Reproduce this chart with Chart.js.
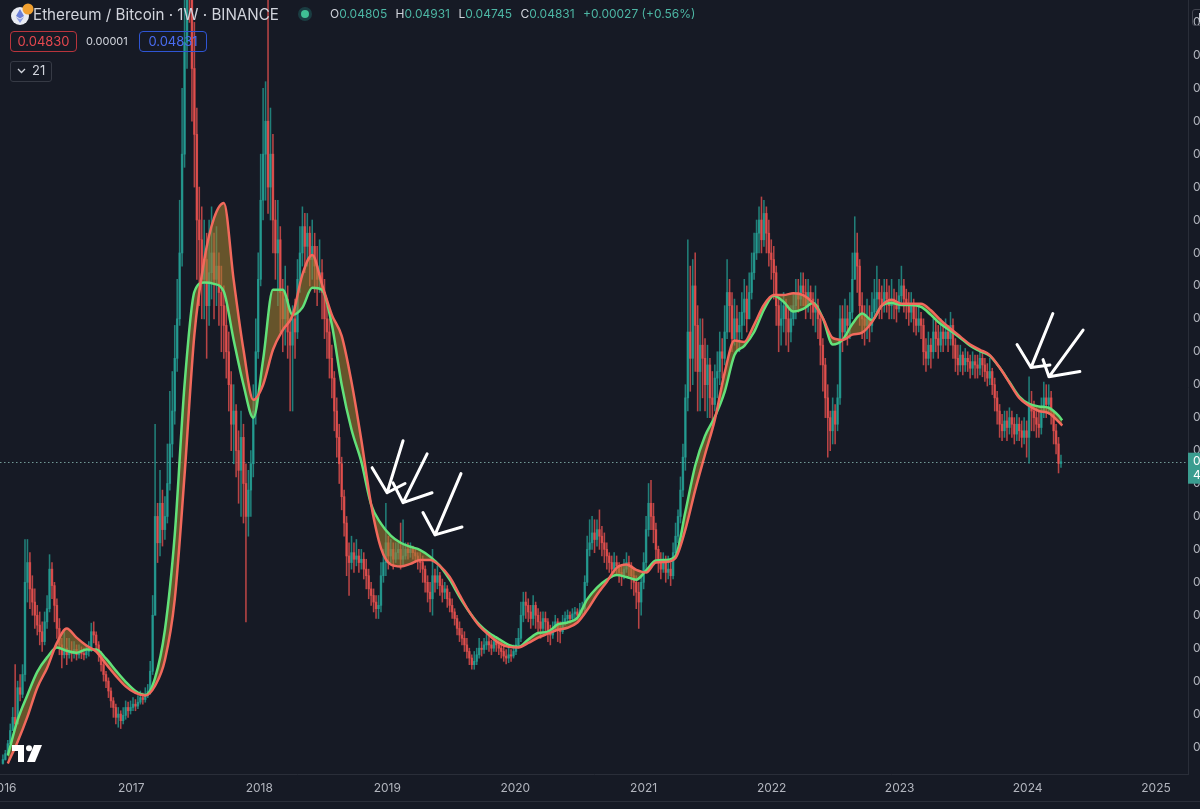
<!DOCTYPE html>
<html>
<head>
<meta charset="utf-8">
<script src="https://cdn.jsdelivr.net/npm/chart.js@4.4.1/dist/chart.umd.min.js"></script>
<style>
  html, body { margin: 0; padding: 0; background: #161a25; overflow: hidden; width: 1200px; height: 809px; }
  #wrap { position: absolute; left: 0; top: 0; width: 1262px; height: 802px; }
  #bottomLine { position: absolute; left: 0; top: 801px; width: 1200px; height: 1px; background: #2a2e39; }
  .lg { position: absolute; font-family: Inter, "Noto Sans", sans-serif; white-space: nowrap; color: #d1d4dc; z-index: 2; }
  #title { left: 33px; top: 5px; font-size: 15.2px; line-height: 19px; }
  #ohlc { left: 330px; top: 7px; font-size: 12px; line-height: 14px; color: #d1d4dc; }
  #ohlc b { font-weight: 400; color: #4db6a4; margin-right: 5px; }
  #dot { left: 298px; top: 7px; width: 14px; height: 14px; border-radius: 50%; background: rgba(38,166,154,0.25); }
  #dot i { position: absolute; left: 3px; top: 3px; width: 8px; height: 8px; border-radius: 50%; background: #3fbf94; }
  .box { position: absolute; box-sizing: border-box; border-radius: 4px; font-size: 13px; text-align: center; }
  #maA { left: 10px; top: 31px; width: 67px; height: 21px; line-height: 19px; border: 1px solid #b8343c; color: #e5484f; }
  #diff { left: 86px; top: 35px; font-size: 11px; line-height: 13px; color: #d1d4dc; }
  #maB { left: 139px; top: 31px; width: 68px; height: 21px; line-height: 19px; border: 1px solid #2f55d4; color: #4a6df2; }
  #len { left: 10px; top: 61px; width: 40px; height: 19px; line-height: 17px; border: 1px solid #363a45; border-radius: 3px; font-size: 13px; text-align: left; }
  #len span { position: absolute; left: 21px; top: 0; }
  #len svg { position: absolute; left: 6px; top: 6px; }
  #icon { left: 9px; top: 3px; }
  #tv { left: 12px; top: 745px; }
  #ebox { left: 1192px; top: 9px; width: 40px; height: 17px; box-sizing: border-box; border: 1px solid #434651; border-radius: 3px; font-size: 12px; line-height: 15px; padding-left: 5px; }
</style>
</head>
<body>
<div id="wrap"><canvas id="chart"></canvas></div>
<div id="bottomLine"></div>

<svg class="lg" id="icon" width="26" height="24" viewBox="0 0 26 24">
  <circle cx="11" cy="13" r="9" fill="#e8ebf2"/>
  <path d="M11 6 L15 13 L11 15.5 L7 13 Z" fill="#6a7fd8"/>
  <path d="M7 14 L11 16.5 L15 14 L11 20 Z" fill="#8b9ce4"/>
  <circle cx="19" cy="6" r="5.5" fill="#f0a030"/>
</svg>
<div class="lg" id="title">Ethereum / Bitcoin · 1W · BINANCE</div>
<div class="lg" id="dot"><i></i></div>
<div class="lg" id="ohlc">O<b>0.04805</b> H<b>0.04931</b> L<b>0.04745</b> C<b>0.04831</b> <b>+0.00027 (+0.56%)</b></div>
<div class="lg box" id="maA">0.04830</div>
<div class="lg" id="diff">0.00001</div>
<div class="lg box" id="maB">0.04831</div>
<div class="lg" id="len">
  <svg width="9" height="6" viewBox="0 0 9 6"><path d="M1 1 L4.5 4.5 L8 1" stroke="#d1d4dc" stroke-width="1.3" fill="none"/></svg>
  <span>21</span>
</div>
<div class="lg" id="ebox">E</div>
<svg class="lg" id="tv" width="32" height="18" viewBox="0 0 32 18">
  <path d="M0 0 H12 V17 H6 V6 H0 Z" fill="#ffffff"/>
  <circle cx="17" cy="3.2" r="3" fill="#ffffff"/>
  <path d="M22 0 H30 L23 17 H15 Z" fill="#ffffff"/>
</svg>

<script>
// ETH/BTC weekly candles, one per week starting Jan 2016 (index = weeks since 2016-01-01)
const firstOpen = 0.0025;

const closes = [
  // 2016
  .0031,.0040,.0055,.0075,.0095,.0085,.0140,.0130,.0160,.0300,.0330,.0290,.0270,
  .0250,.0235,.0225,.0210,.0240,.0260,.0320,.0295,.0265,.0230,.0205,.0190,.0200,
  .0190,.0195,.0192,.0198,.0190,.0195,.0192,.0190,.0195,.0200,.0225,.0220,.0205,
  .0190,.0175,.0160,.0150,.0135,.0120,.0110,.0095,.0100,.0090,.0098,.0110,.0105,
  // 2017
  .0110,.0115,.0112,.0118,.0125,.0122,.0128,.0135,.0165,.0250,.0400,.0360,.0420,
  .0380,.0400,.0450,.0510,.0560,.0640,.0700,.0800,.0950,.1120,.1300,.1250,.1080,
  .0980,.0850,.0820,.0760,.0790,.0720,.0770,.0800,.0760,.0780,.0740,.0720,.0690,
  .0650,.0600,.0540,.0560,.0500,.0470,.0520,.0450,.0400,.0440,.0480,.0560,.0650,
  // 2018
  .0760,.0880,.0950,.1000,.0900,.0950,.0850,.0800,.0820,.0740,.0700,.0730,.0680,
  .0660,.0700,.0680,.0760,.0800,.0840,.0810,.0830,.0790,.0810,.0780,.0760,.0770,
  .0740,.0700,.0680,.0640,.0610,.0560,.0520,.0480,.0430,.0390,.0340,.0330,.0345,
  .0335,.0340,.0330,.0335,.0320,.0310,.0290,.0280,.0270,.0260,.0265,.0310,.0330,
  // 2019
  .0360,.0340,.0350,.0335,.0345,.0350,.0335,.0340,.0350,.0345,.0350,.0345,.0340,
  .0335,.0330,.0320,.0300,.0285,.0275,.0310,.0300,.0310,.0295,.0285,.0290,.0275,
  .0265,.0255,.0245,.0230,.0220,.0215,.0205,.0195,.0185,.0175,.0180,.0190,.0200,
  .0198,.0205,.0210,.0205,.0200,.0210,.0205,.0200,.0195,.0188,.0185,.0190,.0188,
  // 2020
  .0195,.0205,.0215,.0250,.0270,.0265,.0255,.0245,.0265,.0250,.0240,.0230,.0245,
  .0240,.0225,.0220,.0230,.0240,.0230,.0225,.0240,.0245,.0250,.0245,.0252,.0255,
  .0250,.0258,.0260,.0300,.0350,.0360,.0375,.0365,.0380,.0370,.0360,.0350,.0340,
  .0330,.0320,.0330,.0325,.0315,.0310,.0320,.0330,.0325,.0310,.0300,.0285,.0270,
  // 2021
  .0300,.0330,.0380,.0420,.0400,.0380,.0350,.0330,.0320,.0330,.0315,.0320,.0310,
  .0345,.0370,.0400,.0440,.0490,.0580,.0680,.0640,.0750,.0690,.0620,.0660,.0640,
  .0600,.0630,.0580,.0570,.0610,.0620,.0650,.0640,.0680,.0740,.0720,.0670,.0700,
  .0680,.0690,.0710,.0730,.0700,.0740,.0770,.0800,.0830,.0850,.0820,.0860,.0830,
  // 2022
  .0800,.0790,.0770,.0720,.0690,.0700,.0720,.0700,.0680,.0700,.0720,.0740,.0730,
  .0750,.0740,.0720,.0740,.0730,.0710,.0720,.0700,.0660,.0630,.0580,.0550,.0530,
  .0560,.0540,.0580,.0700,.0680,.0700,.0690,.0710,.0760,.0800,.0780,.0720,.0700,
  .0690,.0700,.0690,.0710,.0730,.0740,.0730,.0720,.0740,.0730,.0720,.0730,.0725,
  // 2023
  .0715,.0735,.0750,.0730,.0720,.0710,.0720,.0700,.0690,.0700,.0690,.0650,.0640,
  .0660,.0650,.0680,.0670,.0660,.0680,.0670,.0680,.0670,.0690,.0660,.0640,.0630,
  .0645,.0630,.0640,.0635,.0625,.0635,.0630,.0625,.0640,.0630,.0620,.0610,.0620,
  .0600,.0580,.0560,.0540,.0530,.0545,.0535,.0550,.0540,.0525,.0540,.0530,.0520,
  // 2024
  .0530,.0520,.0570,.0560,.0550,.0540,.0535,.0560,.0580,.0570,.0580,.0560,.0530,.0510,.04805,.04831
];

const highs = [
  .0038,.0045,.0060,.0085,.0110,.0175,.0150,.0160,.0175,.0365,.0365,.0345,.0310,
  .0290,.0265,.0255,.0240,.0255,.0280,.0342,.0330,.0300,.0275,.0245,.0215,.0225,
  .0215,.0215,.0210,.0210,.0205,.0205,.0202,.0200,.0205,.0210,.0238,.0240,.0225,
  .0210,.0195,.0180,.0165,.0155,.0140,.0125,.0115,.0110,.0105,.0110,.0120,.0118,
  .0120,.0125,.0122,.0128,.0135,.0132,.0140,.0145,.0180,.0280,.0540,.0420,.0470,
  .0440,.0430,.0510,.0590,.0620,.0690,.0760,.0880,.1050,.1250,.1450,.1560,.1350,
  .1150,.1020,.0900,.0870,.0850,.0830,.0850,.0870,.0830,.0840,.0800,.0780,.0750,
  .0720,.0680,.0620,.0600,.0570,.0530,.0560,.0540,.0480,.0470,.0500,.0600,.0700,
  .0800,.0950,.1050,.1060,.1220,.1020,.0980,.0880,.0880,.0840,.0760,.0780,.0750,
  .0700,.0720,.0730,.0790,.0840,.0870,.0860,.0860,.0840,.0850,.0830,.0810,.0820,
  .0790,.0760,.0720,.0700,.0660,.0620,.0580,.0540,.0490,.0440,.0400,.0360,.0370,
  .0360,.0365,.0350,.0350,.0345,.0335,.0320,.0300,.0290,.0280,.0280,.0330,.0350,
  .0420,.0370,.0365,.0360,.0360,.0360,.0390,.0395,.0360,.0360,.0360,.0355,.0350,
  .0345,.0345,.0340,.0325,.0310,.0300,.0350,.0320,.0325,.0315,.0305,.0300,.0295,
  .0285,.0275,.0260,.0250,.0240,.0230,.0225,.0215,.0200,.0190,.0195,.0200,.0215,
  .0210,.0215,.0222,.0220,.0212,.0220,.0218,.0212,.0210,.0205,.0198,.0200,.0198,
  .0205,.0215,.0230,.0270,.0285,.0285,.0275,.0265,.0280,.0270,.0260,.0255,.0255,
  .0255,.0245,.0235,.0240,.0250,.0245,.0240,.0250,.0255,.0258,.0255,.0260,.0262,
  .0260,.0268,.0270,.0310,.0370,.0395,.0400,.0395,.0395,.0410,.0385,.0375,.0360,
  .0345,.0340,.0345,.0340,.0330,.0325,.0335,.0345,.0340,.0330,.0320,.0310,.0300,
  .0310,.0345,.0400,.0450,.0455,.0420,.0390,.0355,.0345,.0345,.0340,.0340,.0330,
  .0360,.0390,.0410,.0460,.0510,.0600,.0820,.0780,.0790,.0800,.0720,.0700,.0700,
  .0670,.0660,.0640,.0620,.0630,.0650,.0680,.0670,.0720,.0790,.0760,.0740,.0730,
  .0720,.0710,.0740,.0760,.0750,.0770,.0800,.0830,.0850,.0870,.0885,.0880,.0870,
  .0850,.0820,.0810,.0780,.0730,.0730,.0740,.0730,.0720,.0720,.0740,.0760,.0760,
  .0770,.0770,.0760,.0760,.0750,.0740,.0750,.0730,.0710,.0670,.0640,.0600,.0560,
  .0580,.0570,.0600,.0720,.0720,.0730,.0720,.0740,.0800,.0855,.0830,.0790,.0740,
  .0720,.0730,.0720,.0740,.0760,.0780,.0760,.0750,.0760,.0760,.0750,.0760,.0745,
  .0740,.0760,.0780,.0760,.0745,.0740,.0740,.0730,.0720,.0720,.0710,.0700,.0670,
  .0680,.0670,.0700,.0700,.0690,.0700,.0695,.0700,.0690,.0710,.0700,.0670,.0660,
  .0660,.0650,.0655,.0650,.0645,.0650,.0645,.0645,.0650,.0648,.0640,.0632,.0640,
  .0625,.0610,.0590,.0570,.0555,.0560,.0560,.0565,.0560,.0550,.0555,.0550,.0545,
  .0550,.0545,.0612,.0590,.0575,.0565,.0560,.0580,.0604,.0600,.0600,.0590,.0560,.0540,.0520,.04931
];

const lows = [
  .0024,.0030,.0040,.0055,.0075,.0080,.0085,.0120,.0125,.0150,.0270,.0260,.0250,
  .0230,.0220,.0205,.0195,.0205,.0230,.0255,.0275,.0240,.0215,.0190,.0170,.0185,
  .0175,.0185,.0180,.0185,.0182,.0185,.0184,.0182,.0185,.0188,.0195,.0208,.0195,
  .0180,.0165,.0150,.0140,.0125,.0110,.0095,.0085,.0080,.0078,.0085,.0092,.0095,
  .0100,.0105,.0105,.0108,.0115,.0115,.0118,.0125,.0130,.0160,.0300,.0330,.0340,
  .0355,.0365,.0390,.0440,.0490,.0540,.0620,.0690,.0780,.0930,.1080,.1150,.1000,
  .0900,.0760,.0720,.0700,.0700,.0640,.0690,.0730,.0700,.0720,.0690,.0650,.0640,
  .0610,.0560,.0500,.0480,.0460,.0420,.0400,.0390,.0240,.0370,.0400,.0460,.0540,
  .0640,.0750,.0850,.0880,.0860,.0850,.0800,.0760,.0720,.0680,.0650,.0660,.0640,
  .0560,.0560,.0640,.0670,.0740,.0780,.0770,.0780,.0750,.0760,.0740,.0720,.0740,
  .0700,.0670,.0640,.0610,.0580,.0530,.0490,.0450,.0410,.0370,.0310,.0280,.0320,
  .0315,.0325,.0315,.0320,.0305,.0290,.0275,.0265,.0255,.0245,.0245,.0255,.0300,
  .0310,.0320,.0330,.0320,.0330,.0335,.0320,.0325,.0335,.0335,.0338,.0335,.0330,
  .0320,.0315,.0300,.0285,.0270,.0255,.0250,.0285,.0290,.0280,.0270,.0275,.0262,
  .0255,.0245,.0235,.0220,.0210,.0205,.0195,.0185,.0175,.0168,.0168,.0175,.0185,
  .0188,.0192,.0198,.0195,.0190,.0195,.0195,.0190,.0185,.0180,.0176,.0178,.0180,
  .0185,.0190,.0200,.0210,.0240,.0245,.0240,.0230,.0235,.0230,.0225,.0215,.0225,
  .0225,.0210,.0205,.0215,.0225,.0210,.0208,.0222,.0235,.0240,.0238,.0242,.0245,
  .0243,.0248,.0250,.0255,.0295,.0340,.0350,.0345,.0355,.0350,.0340,.0330,.0320,
  .0315,.0310,.0315,.0310,.0300,.0295,.0305,.0315,.0310,.0290,.0280,.0260,.0230,
  .0250,.0290,.0320,.0370,.0380,.0360,.0330,.0315,.0305,.0315,.0300,.0305,.0295,
  .0305,.0340,.0360,.0390,.0430,.0470,.0560,.0590,.0600,.0620,.0560,.0560,.0580,
  .0560,.0550,.0550,.0540,.0560,.0580,.0600,.0610,.0630,.0670,.0680,.0650,.0660,
  .0650,.0650,.0670,.0690,.0680,.0700,.0730,.0760,.0790,.0800,.0800,.0810,.0800,
  .0780,.0760,.0730,.0690,.0650,.0660,.0680,.0660,.0650,.0665,.0690,.0700,.0710,
  .0720,.0720,.0700,.0710,.0700,.0690,.0680,.0670,.0630,.0590,.0550,.0490,.0500,
  .0510,.0510,.0530,.0570,.0650,.0670,.0660,.0670,.0700,.0760,.0740,.0690,.0670,
  .0660,.0670,.0665,.0680,.0700,.0710,.0700,.0700,.0710,.0710,.0700,.0700,.0700,
  .0695,.0710,.0720,.0710,.0700,.0690,.0695,.0680,.0675,.0680,.0670,.0630,.0620,
  .0630,.0625,.0640,.0650,.0640,.0650,.0650,.0660,.0650,.0660,.0640,.0620,.0615,
  .0620,.0615,.0620,.0620,.0610,.0615,.0610,.0610,.0615,.0612,.0605,.0598,.0600,
  .0585,.0560,.0540,.0520,.0515,.0520,.0515,.0525,.0520,.0510,.0515,.0515,.0505,
  .0510,.0490,.0481,.0530,.0530,.0520,.0520,.0525,.0550,.0550,.0555,.0540,.0510,.0495,.0466,.04745
];

// 21-period moving averages, read every 4 weeks
const maWeeks = [
  2,6,10,14,18,22,26,30,34,38,42,46,50,
  54,58,62,66,70,74,78,82,86,90,94,98,102,
  106,110,114,118,122,126,130,134,138,142,146,150,154,
  158,162,166,170,174,178,182,186,190,194,198,202,206,
  210,214,218,222,226,230,234,238,242,246,250,254,258,
  262,266,270,274,278,282,286,290,294,298,302,306,310,
  314,318,322,326,330,334,338,342,346,350,354,358,362,
  366,370,374,378,382,386,390,394,398,402,406,410,414,
  418,422,426,430,431.5
];
const maGreen = [
  .0037,.0091,.0129,.0164,.0186,.0201,.0196,.0193,.0198,.0198,.0184,.0166,.0149,
  .0135,.0129,.0155,.0228,.0372,.0600,.0741,.0755,.0753,.0741,.0668,.0600,.0550,
  .0638,.0744,.0744,.0706,.0717,.0747,.0744,.0691,.0600,.0532,.0483,.0418,.0389,
  .0371,.0360,.0354,.0349,.0339,.0325,.0304,.0278,.0255,.0236,.0223,.0214,.0205,
  .0202,.0213,.0223,.0225,.0236,.0239,.0246,.0274,.0292,.0304,.0311,.0308,.0304,
  .0318,.0333,.0334,.0340,.0407,.0477,.0522,.0551,.0589,.0645,.0659,.0680,.0714,
  .0735,.0726,.0711,.0715,.0724,.0701,.0661,.0668,.0692,.0708,.0698,.0720,.0724,
  .0721,.0721,.0718,.0706,.0692,.0682,.0671,.0659,.0651,.0644,.0626,.0604,.0582,
  .0571,.0567,.0565,.0553,.0546
];
const maRed = [
  .0025,.0058,.0096,.0140,.0170,.0208,.0230,.0216,.0204,.0195,.0176,.0158,.0142,
  .0132,.0128,.0143,.0182,.0274,.0463,.0676,.0789,.0853,.0876,.0759,.0653,.0577,
  .0600,.0653,.0683,.0705,.0767,.0797,.0752,.0706,.0674,.0604,.0516,.0418,.0352,
  .0327,.0324,.0328,.0334,.0334,.0325,.0308,.0281,.0255,.0234,.0220,.0208,.0202,
  .0201,.0208,.0216,.0222,.0228,.0231,.0239,.0258,.0281,.0301,.0322,.0327,.0319,
  .0315,.0330,.0331,.0337,.0380,.0440,.0494,.0547,.0618,.0667,.0665,.0691,.0721,
  .0736,.0736,.0739,.0736,.0724,.0701,.0671,.0668,.0676,.0679,.0695,.0720,.0729,
  .0723,.0723,.0723,.0713,.0698,.0685,.0673,.0661,.0653,.0645,.0626,.0603,.0580,
  .0568,.0560,.0557,.0544,.0538
];

// axis ticks
const yearWeeks  = [0, 52.29, 104.43, 156.57, 208.71, 261.0, 313.14, 365.29, 417.43, 469.71];
const yearLabels = ['2016','2017','2018','2019','2020','2021','2022','2023','2024','2025'];
const yTicks = [0.005,0.010,0.015,0.020,0.025,0.030,0.035,0.040,0.045,0.050,0.055,0.060,
                0.065,0.070,0.075,0.080,0.085,0.090,0.095,0.100,0.105,0.110,0.115];
const xRange = [-1.18, 482.74];
const yRange = [0.0009, 0.1184];
const countdown = '4d 12h';

// hand-drawn arrows: tip, end of shaft, two head strokes  [week, price]
const arrowTips  = [[156.5,0.0436],[163.0,0.0421],[176.0,0.0372],[418.8,0.0626],[426.1,0.0612]];
const arrowTails = [[163.0,0.0515],[172.8,0.0495],[186.6,0.0465],[427.7,0.0708],[440.0,0.0683]];
const arrowLeft  = [[150.4,0.0474],[158.9,0.0451],[171.1,0.0406],[413.1,0.0661],[423.7,0.0638]];
const arrowRight = [[163.8,0.0450],[174.8,0.0436],[187.0,0.0384],[426.5,0.0630],[438.7,0.0620]];

const UP = 'rgba(38,166,154,0.72)';
const DOWN = 'rgba(239,83,80,0.75)';
const FILL = 'rgba(160,128,48,0.58)';

const candles = closes.map((c, i) => {
  const o = i === 0 ? firstOpen : closes[i - 1];
  return { x: i, o: o, c: c, h: Math.max(highs[i], o, c), l: Math.min(lows[i], o, c) };
});
const lastClose = closes[closes.length - 1];

const extras = {
  id: 'extras',
  beforeDatasetsDraw(chart) {
    const { ctx, chartArea, scales } = chart;
    const y = Math.round(scales.y.getPixelForValue(lastClose)) + 0.5;
    ctx.save();
    ctx.strokeStyle = 'rgba(130,175,170,0.85)';
    ctx.lineWidth = 1;
    ctx.setLineDash([1.5, 2.5]);
    ctx.beginPath();
    ctx.moveTo(chartArea.left, y);
    ctx.lineTo(chartArea.right, y);
    ctx.stroke();
    ctx.restore();
  },
  afterDatasetsDraw(chart) {
    const { ctx, scales } = chart;
    const px = p => [scales.x.getPixelForValue(p[0]), scales.y.getPixelForValue(p[1])];
    ctx.save();
    ctx.strokeStyle = '#ffffff';
    ctx.lineWidth = 3;
    ctx.lineCap = 'round';
    ctx.lineJoin = 'round';
    arrowTips.forEach((tip, i) => {
      const t = px(tip), a = px(arrowTails[i]), l = px(arrowLeft[i]), r = px(arrowRight[i]);
      ctx.beginPath();
      ctx.moveTo(a[0], a[1]); ctx.lineTo(t[0], t[1]);
      ctx.moveTo(l[0], l[1]); ctx.lineTo(t[0], t[1]); ctx.lineTo(r[0], r[1]);
      ctx.stroke();
    });
    ctx.restore();
  },
  afterDraw(chart) {
    const { ctx, chartArea, scales } = chart;
    const y = scales.y.getPixelForValue(lastClose);
    ctx.save();
    ctx.fillStyle = '#3b9d90';
    ctx.fillRect(chartArea.right, y - 9, 80, 31);
    ctx.fillStyle = '#ffffff';
    ctx.font = '12px Inter, "Noto Sans", sans-serif';
    ctx.textBaseline = 'middle';
    ctx.fillText(lastClose.toFixed(5), chartArea.right + 5, y);
    ctx.fillText(countdown, chartArea.right + 5, y + 14);
    ctx.restore();
  }
};

Chart.defaults.font.family = 'Inter, "Noto Sans", sans-serif';

new Chart(document.getElementById('chart'), {
  type: 'bar',
  data: {
    datasets: [
      {
        label: 'wick',
        data: candles.map(k => ({ x: k.x, y: [k.l, k.h] })),
        backgroundColor: candles.map(k => k.c >= k.o ? UP : DOWN),
        barThickness: 0.9,
        grouped: false,
        order: 4
      },
      {
        label: 'body',
        data: candles.map(k => ({ x: k.x, y: [Math.min(k.o, k.c), Math.max(k.o, k.c)] })),
        backgroundColor: candles.map(k => k.c >= k.o ? UP : DOWN),
        barThickness: 1.8,
        minBarLength: 1,
        grouped: false,
        order: 3
      },
      {
        type: 'line',
        label: 'MA fast',
        data: maWeeks.map((w, i) => ({ x: w, y: maGreen[i] })),
        borderColor: '#62e27a',
        borderWidth: 2.5,
        pointRadius: 0,
        cubicInterpolationMode: 'monotone',
        fill: { target: 3, above: FILL, below: FILL },
        order: 2
      },
      {
        type: 'line',
        label: 'MA slow',
        data: maWeeks.map((w, i) => ({ x: w, y: maRed[i] })),
        borderColor: '#f2695c',
        borderWidth: 2.5,
        pointRadius: 0,
        cubicInterpolationMode: 'monotone',
        fill: false,
        order: 1
      }
    ]
  },
  options: {
    responsive: true,
    maintainAspectRatio: false,
    animation: false,
    devicePixelRatio: 1,
    events: [],
    layout: { padding: 0 },
    plugins: { legend: { display: false }, tooltip: { enabled: false } },
    scales: {
      x: {
        type: 'linear',
        min: xRange[0],
        max: xRange[1],
        offset: false,
        grid: { display: false, drawTicks: false },
        border: { display: true, color: '#2a2e39' },
        ticks: {
          color: '#b2b5be',
          font: { size: 12 },
          padding: 7,
          maxRotation: 0,
          autoSkip: false,
          callback: (v, i) => yearLabels[i]
        },
        afterBuildTicks: s => { s.ticks = yearWeeks.map(v => ({ value: v })); },
        afterFit: s => { s.height = 28; s.paddingLeft = 0; s.paddingRight = 0; }
      },
      y: {
        type: 'linear',
        position: 'right',
        min: yRange[0],
        max: yRange[1],
        grid: { display: false, drawTicks: false },
        border: { display: true, color: '#2a2e39' },
        ticks: {
          color: '#b2b5be',
          font: { size: 12 },
          padding: 5,
          callback: v => v.toFixed(5)
        },
        afterBuildTicks: s => { s.ticks = yTicks.map(v => ({ value: v })); },
        afterFit: s => { s.width = 74; s.paddingTop = 0; s.paddingBottom = 0; }
      }
    }
  },
  plugins: [extras]
});
</script>
</body>
</html>
